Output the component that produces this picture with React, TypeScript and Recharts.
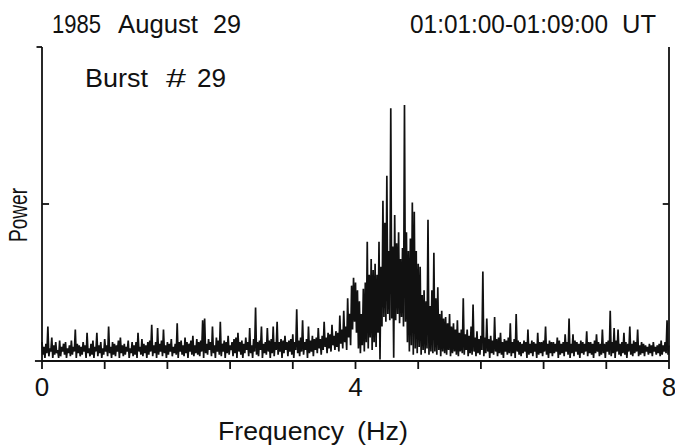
import React from 'react';
import { LineChart, Line, XAxis, YAxis, ReferenceLine } from 'recharts';

// Power spectrum, 0 .. 8 Hz. Local maxima sit on a 0.025 Hz grid,
// the minima between them half a step later.
const FREQ_STEP = 0.025;

const peakPower = [
  // 0.0 - 2.0 Hz
  0.12, 0.09, 0.11, 0.22, 0.08, 0.15, 0.10, 0.12, 0.07, 0.13, 0.09, 0.11, 0.12, 0.08, 0.10, 0.13, 0.09, 0.20, 0.11, 0.10,
  0.09, 0.12, 0.10, 0.18, 0.08, 0.11, 0.13, 0.09, 0.18, 0.10, 0.12, 0.08, 0.14, 0.10, 0.22, 0.09, 0.12, 0.11, 0.10, 0.13,
  0.15, 0.10, 0.11, 0.09, 0.13, 0.08, 0.12, 0.10, 0.12, 0.18, 0.09, 0.14, 0.11, 0.10, 0.12, 0.13, 0.23, 0.10, 0.12, 0.21,
  0.11, 0.13, 0.20, 0.10, 0.12, 0.11, 0.14, 0.09, 0.11, 0.24, 0.12, 0.13, 0.10, 0.15, 0.12, 0.11, 0.13, 0.16, 0.10, 0.14,
  // 2.0 - 4.0 Hz
  0.12, 0.13, 0.26, 0.27, 0.11, 0.14, 0.12, 0.22, 0.10, 0.15, 0.13, 0.25, 0.11, 0.13, 0.12, 0.16, 0.10, 0.12, 0.14, 0.15,
  0.18, 0.12, 0.13, 0.11, 0.15, 0.12, 0.21, 0.10, 0.14, 0.34, 0.12, 0.13, 0.22, 0.11, 0.12, 0.21, 0.13, 0.14, 0.22, 0.12,
  0.25, 0.12, 0.14, 0.13, 0.16, 0.12, 0.13, 0.14, 0.17, 0.12, 0.33, 0.13, 0.15, 0.26, 0.12, 0.14, 0.22, 0.13, 0.16, 0.14,
  0.15, 0.21, 0.14, 0.16, 0.25, 0.15, 0.18, 0.17, 0.23, 0.16, 0.19, 0.18, 0.29, 0.20, 0.32, 0.22, 0.40, 0.30, 0.48, 0.53,
  // 4.0 - 6.0 Hz
  0.50, 0.45, 0.38, 0.30, 0.46, 0.50, 0.76, 0.55, 0.65, 0.58, 0.62, 0.55, 0.76, 0.60, 1.02, 0.88, 1.18, 0.70, 1.61, 0.73,
  0.93, 0.75, 0.82, 0.65, 0.72, 1.63, 0.82, 0.70, 0.78, 1.01, 0.95, 0.70, 0.62, 0.60, 0.42, 0.45, 0.38, 0.90, 0.35, 0.45,
  0.69, 0.40, 0.47, 0.30, 0.32, 0.27, 0.28, 0.24, 0.30, 0.22, 0.24, 0.20, 0.26, 0.18, 0.20, 0.40, 0.17, 0.20, 0.16, 0.22,
  0.36, 0.15, 0.19, 0.14, 0.16, 0.57, 0.15, 0.27, 0.14, 0.16, 0.13, 0.28, 0.14, 0.15, 0.18, 0.12, 0.14, 0.13, 0.15, 0.24,
  // 6.0 - 8.0 Hz
  0.12, 0.14, 0.30, 0.13, 0.12, 0.11, 0.13, 0.12, 0.20, 0.11, 0.13, 0.12, 0.11, 0.18, 0.12, 0.12, 0.13, 0.22, 0.11, 0.13,
  0.12, 0.12, 0.11, 0.15, 0.13, 0.11, 0.12, 0.17, 0.12, 0.27, 0.11, 0.17, 0.13, 0.12, 0.11, 0.13, 0.12, 0.11, 0.19, 0.12,
  0.12, 0.11, 0.13, 0.17, 0.12, 0.11, 0.20, 0.11, 0.12, 0.13, 0.32, 0.12, 0.21, 0.13, 0.20, 0.11, 0.12, 0.18, 0.12, 0.11,
  0.22, 0.11, 0.13, 0.12, 0.20, 0.10, 0.12, 0.11, 0.10, 0.09, 0.11, 0.10, 0.12, 0.09, 0.10, 0.11, 0.13, 0.10, 0.12, 0.26,
  0.10,
];

const troughPower = [
  // 0.0 - 2.0 Hz
  0.04, 0.02, 0.05, 0.03, 0.06, 0.02, 0.04, 0.05, 0.02, 0.03, 0.06, 0.04, 0.02, 0.05, 0.03, 0.04, 0.06, 0.02, 0.05, 0.03,
  0.04, 0.06, 0.02, 0.05, 0.03, 0.04, 0.02, 0.06, 0.03, 0.05, 0.02, 0.04, 0.06, 0.03, 0.05, 0.02, 0.04, 0.03, 0.06, 0.02,
  0.05, 0.03, 0.04, 0.06, 0.02, 0.05, 0.03, 0.04, 0.02, 0.06, 0.04, 0.03, 0.05, 0.02, 0.04, 0.06, 0.03, 0.05, 0.02, 0.04,
  0.06, 0.03, 0.05, 0.02, 0.04, 0.06, 0.03, 0.05, 0.04, 0.02, 0.06, 0.04, 0.03, 0.05, 0.02, 0.06, 0.04, 0.03, 0.05, 0.04,
  // 2.0 - 4.0 Hz
  0.03, 0.06, 0.02, 0.05, 0.04, 0.07, 0.03, 0.05, 0.02, 0.06, 0.04, 0.03, 0.06, 0.02, 0.05, 0.04, 0.07, 0.03, 0.05, 0.02,
  0.06, 0.04, 0.02, 0.05, 0.07, 0.03, 0.05, 0.02, 0.06, 0.04, 0.03, 0.07, 0.02, 0.05, 0.04, 0.06, 0.02, 0.05, 0.03, 0.07,
  0.04, 0.06, 0.02, 0.05, 0.07, 0.03, 0.06, 0.04, 0.02, 0.07, 0.05, 0.03, 0.06, 0.04, 0.07, 0.02, 0.05, 0.06, 0.03, 0.07,
  0.05, 0.08, 0.04, 0.07, 0.09, 0.05, 0.08, 0.06, 0.10, 0.07, 0.09, 0.06, 0.11, 0.08, 0.12, 0.07, 0.15, 0.10, 0.20, 0.25,
  // 4.0 - 6.0 Hz
  0.18, 0.08, 0.05, 0.10, 0.06, 0.12, 0.08, 0.15, 0.07, 0.12, 0.09, 0.18, 0.01, 0.22, 0.28, 0.25, 0.30, 0.26, 0.27, 0.02,
  0.26, 0.30, 0.24, 0.28, 0.22, 0.25, 0.12, 0.06, 0.10, 0.04, 0.08, 0.05, 0.09, 0.04, 0.07, 0.05, 0.08, 0.04, 0.06, 0.05,
  0.06, 0.04, 0.07, 0.03, 0.06, 0.05, 0.04, 0.07, 0.03, 0.05, 0.06, 0.04, 0.03, 0.06, 0.05, 0.04, 0.07, 0.03, 0.05, 0.04,
  0.06, 0.03, 0.05, 0.04, 0.07, 0.03, 0.05, 0.06, 0.02, 0.05, 0.04, 0.06, 0.03, 0.05, 0.04, 0.02, 0.06, 0.04, 0.05, 0.03,
  // 6.0 - 8.0 Hz
  0.05, 0.02, 0.06, 0.04, 0.03, 0.05, 0.06, 0.02, 0.04, 0.05, 0.03, 0.06, 0.02, 0.04, 0.05, 0.03, 0.06, 0.04, 0.02, 0.05,
  0.03, 0.05, 0.06, 0.02, 0.04, 0.05, 0.03, 0.06, 0.04, 0.02, 0.05, 0.03, 0.06, 0.04, 0.02, 0.05, 0.04, 0.06, 0.03, 0.05,
  0.04, 0.02, 0.05, 0.06, 0.03, 0.04, 0.05, 0.02, 0.06, 0.04, 0.03, 0.05, 0.02, 0.06, 0.04, 0.03, 0.05, 0.04, 0.02, 0.06,
  0.04, 0.03, 0.05, 0.06, 0.03, 0.04, 0.05, 0.03, 0.06, 0.04, 0.05, 0.03, 0.06, 0.04, 0.05, 0.03, 0.04, 0.06, 0.05, 0.04,
];

const freqTicks = [0, 0.8, 1.6, 2.4, 3.2, 4, 4.8, 5.6, 6.4, 7.2, 8];
const labelledFreqs = [0, 4, 8];
const powerTicks = [1];

const spectrum: { freq: number; power: number }[] = [];
peakPower.forEach((p, i) => {
  spectrum.push({ freq: +(i * FREQ_STEP).toFixed(4), power: p });
  if (i < troughPower.length) {
    spectrum.push({ freq: +(i * FREQ_STEP + FREQ_STEP / 2).toFixed(4), power: troughPower[i] });
  }
});

const FONT = "'Liberation Sans', Arial, sans-serif";
const INK = '#111';

// plotter-style lettering: each word squeezed to a fixed width
const Word = ({ x, y, w, size = 25, children }: any) => (
  <text x={x} y={y} textLength={w} lengthAdjust="spacingAndGlyphs"
    fontFamily={FONT} fontSize={size} fill={INK}>
    {children}
  </text>
);

const PowerLabel = ({ viewBox }: any) => {
  const x = viewBox.x + 27;
  const y = viewBox.y + viewBox.height / 2 + 11;
  return (
    <text x={x} y={y} transform={`rotate(-90, ${x}, ${y})`} textAnchor="middle"
      textLength={54} lengthAdjust="spacingAndGlyphs" fontFamily={FONT} fontSize={26} fill={INK}>
      Power
    </text>
  );
};

const FreqLabel = ({ viewBox }: any) => (
  <g>
    <Word x={viewBox.x + 176} y={viewBox.y + 79} w={126}>Frequency</Word>
    <Word x={viewBox.x + 315} y={viewBox.y + 79} w={51}>(Hz)</Word>
  </g>
);

export default function App() {
  const axisLine = { stroke: INK, strokeWidth: 1.8 };
  return (
    <div style={{ position: 'absolute', left: 0, top: 0, width: 675, height: 447, background: '#fff' }}>
      <LineChart
        width={675}
        height={447}
        data={spectrum}
        margin={{ top: 47, right: 0, bottom: 26, left: 0 }}
      >
        <XAxis
          dataKey="freq"
          type="number"
          domain={[0, 8]}
          ticks={freqTicks}
          interval={0}
          height={60}
          tickSize={8}
          tickMargin={9}
          axisLine={axisLine}
          tickLine={axisLine}
          tick={{ fill: INK, fontSize: 26, fontFamily: FONT }}
          tickFormatter={(v: number) => (labelledFreqs.includes(v) ? String(v) : '')}
          label={{ content: FreqLabel } as any}
        />
        <XAxis
          xAxisId="top"
          orientation="top"
          type="number"
          domain={[0, 8]}
          height={0}
          tick={false}
          tickLine={false}
          axisLine={axisLine}
        />
        <YAxis
          type="number"
          domain={[0, 2]}
          ticks={powerTicks}
          width={42}
          tickSize={7}
          tick={false}
          axisLine={axisLine}
          tickLine={axisLine}
          label={{ content: PowerLabel } as any}
        />
        <YAxis
          yAxisId="right"
          orientation="right"
          type="number"
          domain={[0, 2]}
          ticks={powerTicks}
          width={6}
          tickSize={6}
          tick={false}
          axisLine={axisLine}
          tickLine={axisLine}
        />
        {/* inner halves of the power ticks and the axis overhang at the corners */}
        <ReferenceLine segment={[{ x: 0, y: 1 }, { x: 0.09, y: 1 }]} stroke={INK} strokeWidth={1.8} />
        <ReferenceLine segment={[{ x: 7.92, y: 1 }, { x: 8, y: 1 }]} stroke={INK} strokeWidth={1.8} />
        <ReferenceLine segment={[{ x: -0.09, y: 0 }, { x: 0, y: 0 }]} stroke={INK} strokeWidth={1.8} ifOverflow="visible" />
        <ReferenceLine segment={[{ x: -0.07, y: 2 }, { x: 0, y: 2 }]} stroke={INK} strokeWidth={1.8} ifOverflow="visible" />
        <Line
          type="linear"
          dataKey="power"
          stroke={INK}
          strokeWidth={1.7}
          dot={false}
          isAnimationActive={false}
        />
      </LineChart>
      <svg width={675} height={447} style={{ position: 'absolute', left: 0, top: 0, pointerEvents: 'none' }}>
        <Word x={52} y={33} w={49}>1985</Word>
        <Word x={118} y={33} w={80}>August</Word>
        <Word x={213} y={33} w={28}>29</Word>
        <Word x={410} y={33} w={198}>01:01:00-01:09:00</Word>
        <Word x={622} y={33} w={34}>UT</Word>
        <Word x={85} y={87} w={63} size={26}>Burst</Word>
        <Word x={166} y={87} w={20} size={26}>#</Word>
        <Word x={197} y={87} w={29} size={26}>29</Word>
      </svg>
    </div>
  );
}
